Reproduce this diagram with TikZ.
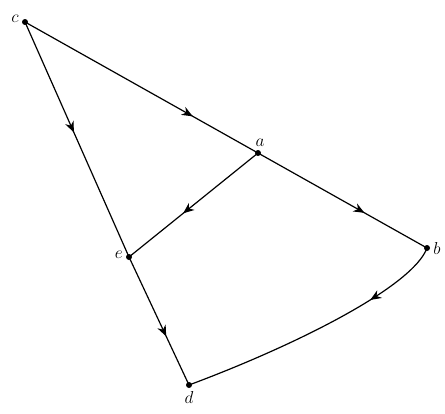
\documentclass[tikz,border=0pt]{standalone}
\usepackage{tikz}
\usetikzlibrary{arrows.meta, decorations.markings, positioning}

\begin{document}
\begin{tikzpicture}[
    x=1pt, y=-1pt,
    dot/.style={circle, fill=black, inner sep=0pt, minimum size=6pt},
    lbl/.style={font=\fontsize{18}{20}\selectfont, inner sep=2pt},
    edge/.style={line width=1.2pt},
    midarr/.style={edge, postaction={decorate}, decoration={markings,
        mark=at position #1 with {\arrow{Stealth[length=11pt, width=9pt]}}}}
  ]
  \useasboundingbox (0,0) rectangle (445,413);
  % Vertices
  \node[dot] (c) at (25,22) {};
  \node[dot] (a) at (258,153) {};
  \node[dot] (b) at (427,248) {};
  \node[dot] (e) at (129,257) {};
  \node[dot] (d) at (189,385) {};
  % Labels
  \node[lbl, left=1pt of c, yshift=3pt] (lc) {$c$};
  \node[lbl, above=1pt of a, xshift=2pt] (la) {$a$};
  \node[lbl, right=1pt of b] (lb) {$b$};
  \node[lbl, left=1pt of e, yshift=2pt] (le) {$e$};
  \node[lbl, below=1pt of d] (ld) {$d$};
  % Edges
  \draw[midarr=0.47] (c.center)--(e.center);
  \draw[midarr=0.72] (c.center)--(a.center);
  \draw[midarr=0.58] (a.center)--(e.center);
  \draw[midarr=0.63] (a.center)--(b.center);
  \draw[midarr=0.62] (e.center)--(d.center);
  \draw[midarr=0.28] (b.center) .. controls (413,286) and (299,344) .. (d.center);
\end{tikzpicture}
\end{document}
